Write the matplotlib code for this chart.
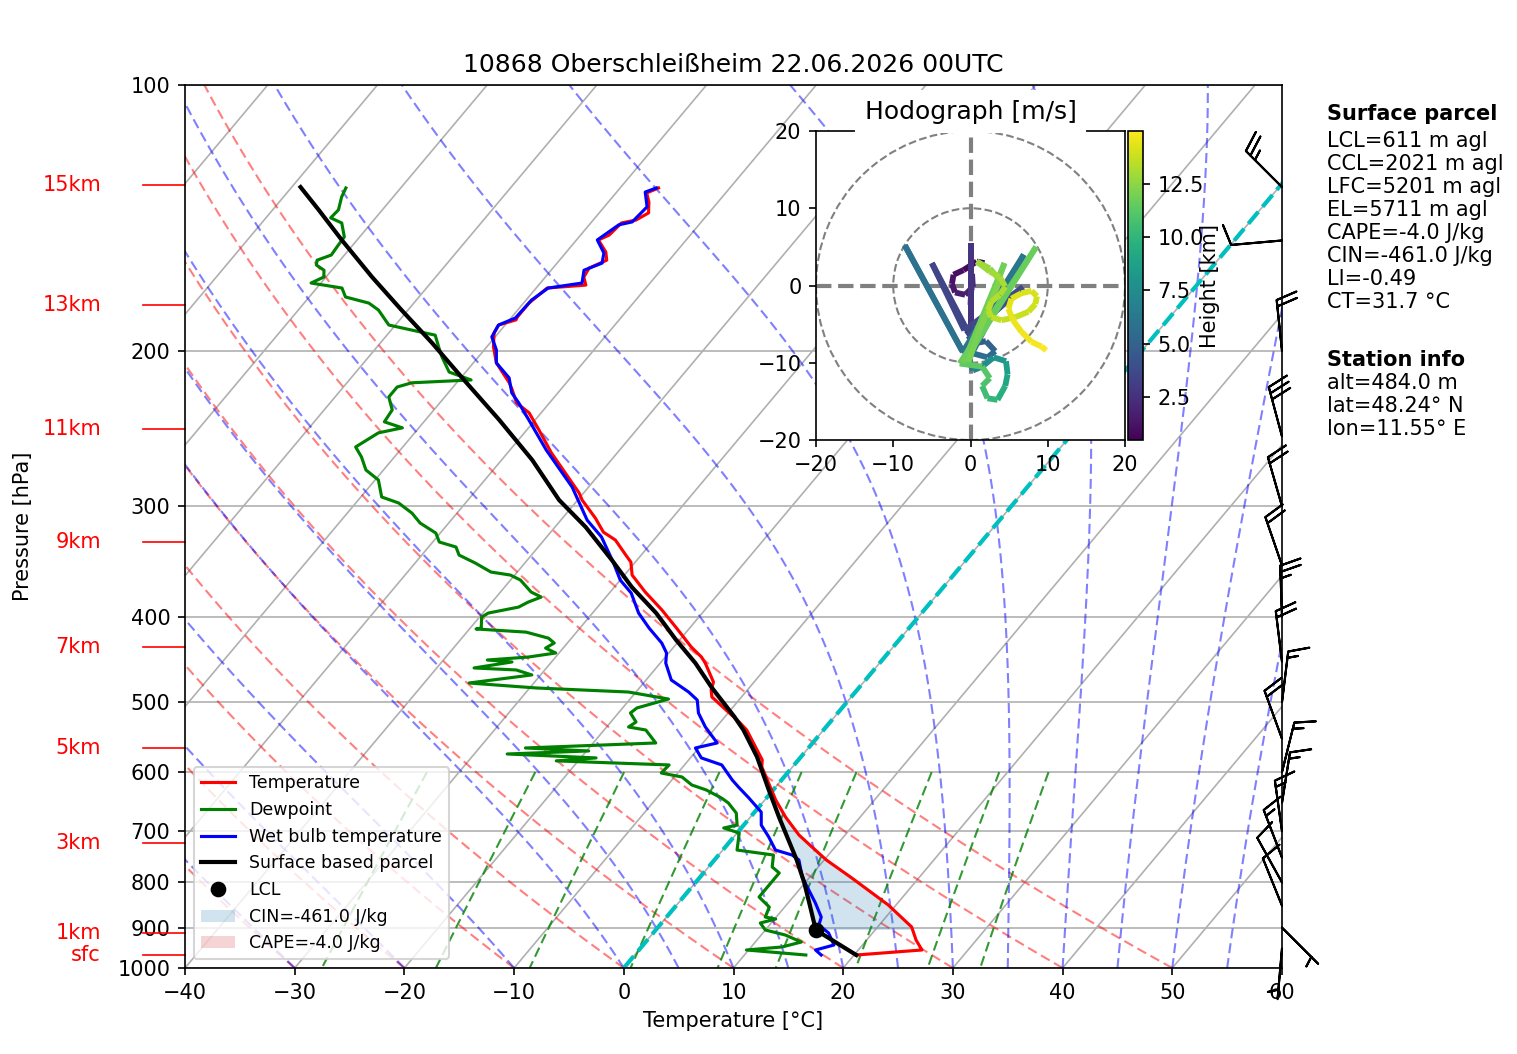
import numpy as np
import matplotlib
matplotlib.use('Agg')
import matplotlib.pyplot as plt
import matplotlib.transforms as mtransforms
from matplotlib.collections import LineCollection
from matplotlib.patches import Circle
from matplotlib.ticker import ScalarFormatter, NullLocator

# ---------------------------------------------------------------- data
title = '10868 Oberschleißheim 22.06.2026 00UTC'

temp_p = [966.7, 954.1, 929.6, 898.5, 848.6, 790.8, 754.5, 729.4, 707.0, 674.6,
          645.3, 591.9, 581.2, 537.6, 526.5, 493.3, 484.4, 474.4, 451.5, 444.5,
          433.0, 412.1, 393.2, 375.2, 358.9, 347.0, 340.7, 327.6, 320.9, 309.4,
          295.1, 289.8, 261.0, 245.8, 235.1, 229.1, 221.4, 217.4, 206.4, 197.9,
          190.9, 187.0, 184.5, 183.1, 176.6, 169.8, 168.5, 165.0, 161.2, 157.9,
          154.6, 149.8, 147.9, 143.3, 142.2, 139.6, 135.7, 132.5, 130.8]
temp_T = [20.2, 25.8, 24.5, 23.1, 19.3, 13.9, 10.2, 7.9, 5.8, 3.2,
          1.0, -2.8, -3.3, -7.0, -8.3, -12.7, -13.3, -13.7, -15.9, -16.7,
          -18.4, -21.2, -23.9, -26.8, -29.3, -30.4, -31.4, -33.5, -35.2, -37.0,
          -39.6, -40.4, -46.0, -48.9, -51.1, -53.0, -54.4, -55.2, -57.9, -59.4,
          -60.4, -60.6, -59.4, -59.5, -59.5, -59.0, -55.7, -56.5, -56.7, -55.7,
          -56.4, -58.0, -57.4, -57.2, -56.1, -55.5, -56.3, -57.2, -56.5]

wb_p = [966.7, 954.1, 941.8, 912.9, 894.0, 875.6, 844.2, 816.0, 788.8, 754.5,
        744.8, 735.2, 710.7, 688.9, 665.9, 641.9, 623.7, 612.4, 588.9, 578.2,
        563.4, 556.1, 533.4, 514.3, 497.2, 486.9, 471.9, 451.5, 439.8, 428.5,
        412.1, 396.3, 376.2, 363.6, 347.9, 325.0, 311.0, 285.3, 259.0, 239.4,
        229.1, 223.2, 214.6, 206.4, 199.5, 192.9, 187.0, 183.6, 175.2, 169.8,
        167.6, 162.1, 159.1, 155.0, 149.8, 144.0, 142.9, 137.4, 132.2, 130.8]
wb_T = [17.0, 16.1, 17.4, 16.0, 14.5, 14.1, 12.5, 10.9, 9.3, 7.7,
        6.7, 4.8, 3.2, 1.6, 0.6, -1.6, -3.4, -4.5, -6.6, -9.0,
        -10.3, -8.7, -11.0, -12.7, -13.8, -15.2, -17.7, -19.5, -20.2, -21.4,
        -23.7, -25.8, -28.0, -30.0, -31.9, -35.0, -37.6, -41.5, -46.7, -50.6,
        -52.8, -54.2, -55.6, -57.9, -58.9, -60.3, -60.6, -59.6, -59.5, -58.9,
        -56.2, -57.0, -55.9, -56.5, -58.1, -57.3, -56.3, -56.1, -57.4, -56.7]

dew_p = [966.7, 954.1, 946.7, 934.5, 917.6, 905.7, 889.3, 880.1, 875.6, 853.0,
         831.0, 799.0, 780.5, 768.4, 744.8, 735.2, 703.3, 694.1, 688.9, 667.6,
         650.2, 641.9, 628.6, 620.5, 607.7, 601.4, 588.9, 582.7, 578.2, 572.3,
         567.8, 563.4, 556.1, 537.6, 533.4, 526.5, 514.3, 507.6, 495.9, 486.9,
         481.8, 475.6, 465.7, 459.7, 457.3, 450.2, 447.9, 444.5, 439.8, 434.2,
         428.5, 423.1, 416.5, 413.1, 412.1, 400.5, 396.3, 390.2, 385.1, 380.1,
         375.2, 363.6, 358.9, 356.1, 347.9, 340.7, 333.6, 329.3, 321.7, 313.4,
         305.4, 297.4, 292.8, 280.1, 272.9, 263.8, 257.0, 247.7, 244.5, 240.7,
         233.3, 225.6, 219.8, 217.4, 215.8, 211.4, 203.3, 197.9, 192.0, 189.5,
         187.0, 179.8, 176.6, 173.8, 169.8, 167.6, 165.0, 162.1, 159.9, 157.9,
         155.8, 152.6, 148.6, 143.3, 141.4, 138.5, 133.9, 130.8]
dew_T = [15.6, 9.8, 12.8, 14.2, 12.2, 10.0, 9.0, 10.1, 9.0, 8.6,
         6.9, 6.9, 6.9, 5.8, 5.0, 1.3, 0.2, -1.6, -0.6, -1.6,
         -3.1, -4.1, -6.1, -7.8, -9.3, -11.5, -11.4, -22.0, -18.6, -27.0,
         -19.8, -25.8, -14.3, -16.2, -18.0, -17.7, -18.9, -18.7, -16.5, -20.7,
         -29.4, -35.9, -30.8, -32.6, -36.6, -33.6, -36.0, -32.5, -30.3, -31.6,
         -31.2, -32.1, -34.6, -39.4, -39.0, -39.8, -39.5, -37.2, -36.7, -35.9,
         -37.2, -39.1, -40.4, -42.4, -44.5, -46.6, -47.5, -49.4, -50.4, -52.6,
         -54.1, -56.1, -58.1, -59.7, -61.6, -63.0, -64.3, -63.3, -61.5, -63.6,
         -63.8, -65.1, -65.1, -64.1, -58.9, -61.5, -63.3, -64.4, -65.6, -68.1,
         -70.6, -72.7, -74.1, -76.7, -77.7, -80.9, -80.2, -80.7, -81.8, -82.1,
         -81.2, -81.3, -81.4, -82.7, -84.1, -84.0, -84.7, -85.0]

parcel_p = [966.7, 905.7, 850.0, 800.0, 754.5, 674.6, 628.6, 576.7, 537.6, 519.7,
            480.7, 451.5, 425.3, 396.3, 370.4, 345.1, 316.7, 295.1, 265.9, 239.4,
            217.4, 195.9, 179.8, 165.0, 149.8, 138.5, 130.5]
parcel_T = [20.2, 14.6, 12.2, 9.9, 7.5, 2.6, -0.4, -4.0, -7.3, -9.1,
            -13.5, -16.8, -20.3, -24.2, -28.4, -32.3, -37.2, -41.7, -47.2, -53.3,
            -59.1, -65.3, -70.6, -75.8, -81.4, -85.8, -89.2]

lcl_p, lcl_T = 905.7, 14.6
lfc_p, el_p = 515.0, 481.0
cin_label = 'CIN=-461.0 J/kg'
cape_label = 'CAPE=-4.0 J/kg'

barb_p = [130.5, 150, 200, 250, 300, 350, 400, 450, 500, 550,
          600, 650, 700, 750, 800, 850, 900, 950]
barb_dir = [315, 265, 354, 345, 344, 341, 358, 353, 7, 340,
            14, 9, 352, 339, 331, 338, 135, 185]
barb_spd = [25, 10, 20, 30, 20, 20, 25, 20, 15, 20,
            15, 15, 15, 15, 10, 10, 5, 5]

hodo_h = [0.48, 0.7, 0.9, 1.1, 1.3, 1.5, 1.7, 1.9, 2.1, 2.3,
          2.5, 2.6, 2.7, 2.9, 3.3, 3.45, 3.6, 3.75, 3.9, 4.3,
          4.8, 5.2, 5.5, 5.8, 5.9, 6.0, 6.1, 6.2, 6.6, 7.2,
          7.8, 8.3, 8.8, 9.3, 9.8, 10.3, 10.7, 11.0, 11.3, 11.5,
          11.6, 11.7, 11.8, 11.9, 12.1, 12.3, 12.55, 12.8, 12.9, 13.0,
          13.1, 13.2, 13.3, 13.4, 13.5, 13.6, 13.7, 13.8, 13.9, 14.0,
          14.1, 14.2, 14.3, 14.4, 14.5, 14.6, 14.75, 14.85, 14.95]
hodo_u = [1.8, 0.8, -0.9, -2.2, -2.4, -2.0, -0.7, 0.3, 0.2, 0.0,
          0.0, 0.0, 0.0, -0.5, -0.7, -5.0, -0.8, 6.8, -0.3, 0.5,
          2.0, 3.2, 2.2, -1.1, -8.5, -1.0, 6.9, -0.2, 0.3, 1.5,
          3.0, 4.6, 4.8, 4.5, 3.5, 2.2, 1.5, 2.5, 1.5, -1.4,
          8.5, -0.9, 4.4, -0.3, 1.2, 3.8, 2.5, 0.8, 2.5, 3.8,
          4.5, 3.8, 2.7, 2.3, 2.7, 4.0, 5.8, 7.5, 8.4, 8.6,
          7.9, 6.6, 5.3, 4.9, 5.5, 6.6, 7.9, 9.2, 9.8]
hodo_v = [2.9, 3.1, 2.0, 1.4, 0.2, -0.9, -1.2, -0.2, 1.5, -2.5,
          -5.0, 5.5, -6.5, -5.8, -5.3, 2.9, -5.8, -0.2, -6.5, -7.5,
          -7.2, -8.5, -9.3, -8.4, 5.2, -8.6, 4.0, -9.5, -11.0, -10.5,
          -9.3, -9.8, -11.5, -13.0, -14.8, -14.6, -13.0, -12.0, -10.5, -10.1,
          5.0, -10.0, 2.9, -9.9, -5.7, 0.7, 2.2, 3.1, 1.8, 1.1,
          -0.15, -1.2, -2.1, -3.2, -4.1, -4.5, -4.1, -3.4, -2.4, -1.4,
          -0.7, -1.0, -1.7, -3.0, -4.5, -6.0, -7.3, -7.9, -8.4]
hodo_hmin, hodo_hmax = 0.48, 14.97

height_labels = ['sfc', '1km', '3km', '5km', '7km', '9km', '11km', '13km', '15km']
height_p = [966.7, 912.0, 722.0, 563.4, 433.0, 329.3, 245.3, 177.7, 129.8]

parcel_info = ['LCL=611 m agl', 'CCL=2021 m agl', 'LFC=5201 m agl', 'EL=5711 m agl',
               'CAPE=-4.0 J/kg', 'CIN=-461.0 J/kg', 'LI=-0.49', 'CT=31.7 °C']
station_info = ['alt=484.0 m', 'lat=48.24° N', 'lon=11.55° E']

dry_t0 = np.arange(-40, 51, 10)
moist_t0 = np.concatenate((np.arange(-40, 0, 10), np.arange(0, 61, 5)))
mix_ratios = [0.0004, 0.001, 0.002, 0.004, 0.007, 0.01, 0.016, 0.024, 0.032]

# ---------------------------------------------------------------- figure
W, H, DPI = 1517, 1054, 150
fig = plt.figure(figsize=(W / DPI, H / DPI), dpi=DPI)
AX_L, AX_T, AX_R, AX_B = 185, 85, 1282, 968
ax = fig.add_axes([AX_L / W, 1 - AX_B / H, (AX_R - AX_L) / W, (AX_B - AX_T) / H])
XMIN, XMAX = -40, 60
PBOT, PTOP = 1000.0, 100.0
ROT = 40.0
px_per_dec = (AX_B - AX_T) / np.log10(PBOT / PTOP)
px_per_deg = (AX_R - AX_L) / (XMAX - XMIN)
K = np.tan(np.radians(ROT)) * px_per_dec / px_per_deg


def sx(T, p):
    """skew-T x coordinate: temperature shifted with log-pressure"""
    return np.asarray(T, float) + K * np.log10(PBOT / np.asarray(p, float))


ax.set_yscale('log')
ax.set_ylim(PBOT, PTOP)
ax.set_xlim(XMIN, XMAX)

dash = (0, (4.8, 2.4))
# isotherms
for t in range(-130, 61, 10):
    ax.plot(sx([t, t], [PBOT, PTOP]), [PBOT, PTOP], color='#b0b0b0', lw=0.8, zorder=0.6)

pp = np.linspace(PBOT, PTOP, 200)
# dry adiabats
for t0 in dry_t0:
    T = (t0 + 273.15) * (pp / 1000.0) ** 0.28571 - 273.15
    ax.plot(sx(T, pp), pp, color='r', ls=dash, lw=1.0, alpha=0.5, zorder=0.8)


# moist adiabats
def moist_lapse(t0c, p):
    Rd, eps, Cp, Lv = 287.04749, 0.6219569, 1004.6662, 2.50084e6

    def f(pr, T):
        es = 6.112 * np.exp(17.67 * (T - 273.15) / (T - 29.65))
        rs = eps * es / (pr - es)
        return (Rd * T + Lv * rs) / (Cp + Lv * Lv * rs * eps / (Rd * T * T)) / pr

    out = np.empty_like(p)
    T = t0c + 273.15
    out[0] = T
    for i in range(len(p) - 1):
        h = p[i + 1] - p[i]
        k1 = f(p[i], T)
        k2 = f(p[i] + h / 2, T + h / 2 * k1)
        k3 = f(p[i] + h / 2, T + h / 2 * k2)
        k4 = f(p[i] + h, T + h * k3)
        T = T + h / 6 * (k1 + 2 * k2 + 2 * k3 + k4)
        out[i + 1] = T
    return out - 273.15


for t0 in moist_t0:
    T = moist_lapse(float(t0), pp)
    ax.plot(sx(T, pp), pp, color='b', ls=dash, lw=1.0, alpha=0.5, zorder=0.8)

# mixing ratio lines
pm = np.linspace(600, PBOT, 50)
for w in mix_ratios:
    e = pm * w / (0.6219569 + w)
    lg = np.log(e / 6.112)
    td = 243.5 * lg / (17.67 - lg)
    ax.plot(sx(td, pm), pm, color='g', ls=dash, lw=1.0, alpha=0.8, zorder=0.8)

# 0 degC isotherm
ax.plot(sx([0, 0], [PBOT, PTOP]), [PBOT, PTOP], color='c', ls='--', lw=2, zorder=1.2)

# profiles
h_t, = ax.plot(sx(temp_T, temp_p), temp_p, color='r', lw=1.5, zorder=3, label='Temperature')
h_d, = ax.plot(sx(dew_T, dew_p), dew_p, color='g', lw=1.5, zorder=3, label='Dewpoint')
h_w, = ax.plot(sx(wb_T, wb_p), wb_p, color='b', lw=1.5, zorder=3, label='Wet bulb temperature')
h_p, = ax.plot(sx(parcel_T, parcel_p), parcel_p, color='k', lw=2.0, zorder=3.5,
               label='Surface based parcel')
h_l, = ax.plot(sx(lcl_T, lcl_p), lcl_p, 'ko', ms=6.5, zorder=4, label='LCL')


def prof_at(pq, p, T):
    return np.interp(-np.log(pq), -np.log(np.asarray(p)), np.asarray(T))


pg = np.geomspace(lcl_p, lfc_p, 300)
par = prof_at(pg, parcel_p, parcel_T)
env = prof_at(pg, temp_p, temp_T)
h_cin = ax.fill_betweenx(pg, sx(par, pg), sx(env, pg), where=par <= env, interpolate=True,
                         facecolor='tab:blue', alpha=0.2, lw=0, zorder=1.5, label=cin_label)
pg2 = np.geomspace(lfc_p, el_p, 100)
par2 = prof_at(pg2, parcel_p, parcel_T)
env2 = prof_at(pg2, temp_p, temp_T)
h_cape = ax.fill_betweenx(pg2, sx(par2, pg2), sx(env2, pg2), where=par2 >= env2,
                          interpolate=True, facecolor='tab:red', alpha=0.2, lw=0,
                          zorder=1.5, label=cape_label)

# wind barbs (knots) on right edge
trans = mtransforms.blended_transform_factory(ax.transAxes, ax.transData)
d = np.radians(barb_dir)
bu = -np.asarray(barb_spd) * np.sin(d)
bv = -np.asarray(barb_spd) * np.cos(d)
ax.barbs(np.ones(len(barb_p)), barb_p, bu, bv, transform=trans, clip_on=False,
         zorder=5, length=7)

# height labels
for lab, p in zip(height_labels, height_p):
    ax.plot([-0.0383, 0.0], [p, p], transform=trans, color='r', lw=0.8, clip_on=False)
    ax.text(-0.0766, p, lab, transform=trans, color='r', ha='right', va='center', fontsize=10)

ax.set_yticks(np.arange(100, 1001, 100))
ax.yaxis.set_major_formatter(ScalarFormatter())
ax.yaxis.set_minor_locator(NullLocator())
ax.set_xticks(np.arange(XMIN, XMAX + 1, 10))
ax.yaxis.grid(True, color='#b0b0b0', lw=0.8)
ax.set_axisbelow(True)
ax.set_ylabel('Pressure [hPa]')
ax.yaxis.set_label_coords(-0.139, 0.5)
ax.set_xlabel('Temperature [°C]')
ax.set_title(title)

ax.legend(handles=[h_t, h_d, h_w, h_p, h_l, h_cin, h_cape], loc='lower left', fontsize='small')

# ---------------------------------------------------------------- hodograph
hax = fig.add_axes([816 / W, 1 - 440 / H, 309 / W, 309 / H])
hax.set_facecolor('white')
hax.set_xlim(-20, 20)
hax.set_ylim(-20, 20)
for r in (10, 20):
    hax.add_patch(Circle((0, 0), r, fill=False, edgecolor='grey', ls='--', lw=1, zorder=2))
hax.axhline(0, color='grey', ls='--', lw=2, zorder=2)
hax.axvline(0, color='grey', ls='--', lw=2, zorder=2)
pts = np.column_stack([hodo_u, hodo_v])
segs = np.stack([pts[:-1], pts[1:]], axis=1)
hh = np.asarray(hodo_h)
lc = LineCollection(segs, cmap='viridis', norm=plt.Normalize(hodo_hmin, hodo_hmax),
                    linewidths=2.8, zorder=3)
lc.set_array((hh[:-1] + hh[1:]) / 2)
hax.add_collection(lc)
hax.set_xticks([-20, -10, 0, 10, 20])
hax.set_yticks([-20, -10, 0, 10, 20])
hax.set_title('Hodograph [m/s]', bbox=dict(facecolor='white', edgecolor='white'))

cax = fig.add_axes([1128 / W, 1 - 440 / H, 15 / W, 309 / H])
cb = fig.colorbar(lc, cax=cax)
cb.set_ticks([2.5, 5.0, 7.5, 10.0, 12.5])
cb.set_label('Height [km]', labelpad=-2)

# ---------------------------------------------------------------- info text
tx = 1327 / W
fig.text(tx, 1 - 114 / H, 'Surface parcel', fontweight='bold', va='center', fontsize=10)
for i, s in enumerate(parcel_info):
    fig.text(tx, 1 - (141 + 23.0 * i) / H, s, va='center', fontsize=10)
fig.text(tx, 1 - 360 / H, 'Station info', fontweight='bold', va='center', fontsize=10)
for i, s in enumerate(station_info):
    fig.text(tx, 1 - (383 + 23.0 * i) / H, s, va='center', fontsize=10)

fig.savefig('out.png', dpi=DPI)
